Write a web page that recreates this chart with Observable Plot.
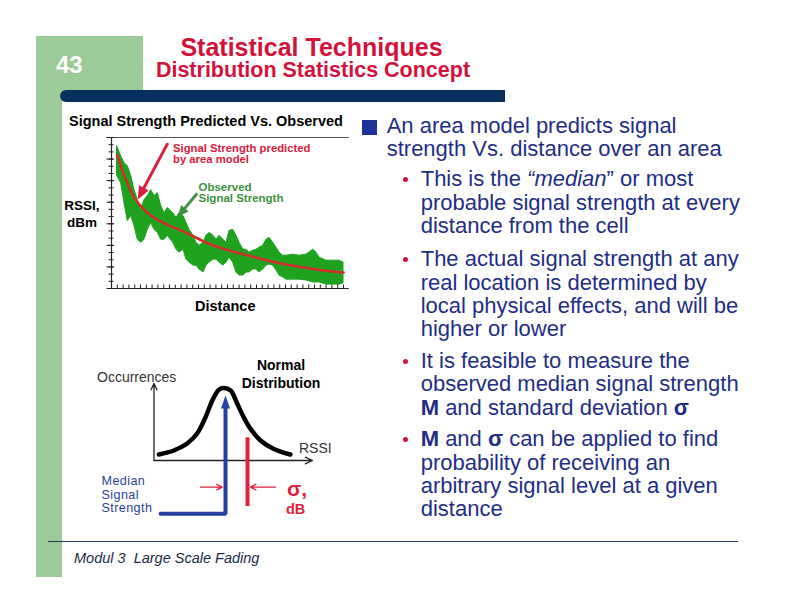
<!DOCTYPE html>
<html><head><meta charset="utf-8">
<script src="https://cdn.jsdelivr.net/npm/d3@7"></script>
<script src="https://cdn.jsdelivr.net/npm/@observablehq/plot@0.6"></script>
<style>
body{margin:0;background:#fff;font-family:"Liberation Sans",Arial,sans-serif;}
#slide{position:relative;width:792px;height:612px;overflow:hidden;background:#fff;}
.t{position:absolute;white-space:nowrap;}
.box{position:absolute;}
#chart1,#chart2{position:absolute;}
</style></head><body>
<div id="slide">
  <div class="box" style="left:36px;top:36px;width:26px;height:541px;background:#9bcc97"></div>
  <div class="box" style="left:36px;top:36px;width:107px;height:60px;background:#9bcc97"></div>
  <div class="box" style="left:60px;top:90px;width:445px;height:12px;background:#07305e;border-radius:6px 0 0 6px"></div>
  <div class="box" style="left:48px;top:541px;width:690px;height:1px;background:#223a55"></div>
  <div class="box" style="left:362px;top:120px;width:15px;height:15px;background:#1d3297"></div>
  <div id="chart1" style="left:62px;top:110px"></div>
  <div id="chart2" style="left:90px;top:350px"></div>
</div>
<script>
// ---- Data: top chart (RSSI vs distance) ----
const obsDistance = [0.98,1.67,2.24,2.81,3.40,3.97,4.53,5.12,5.69,6.26,6.84,7.41,7.98,8.57,9.14,9.71,10.64,11.21,11.72,12.41,12.93,13.45,14.14,14.66,15.17,15.86,16.38,16.90,17.59,18.10,18.62,19.31,19.83,20.34,20.98,21.55,22.07,22.76,23.28,23.79,24.43,25.00,25.52,26.16,26.72,27.24,27.88,28.45,28.97,29.60,30.17,31.33,32.41,33.62,34.78,35.34,35.86,37.07,38.22,39.31,40.0];
const obsHigh = [-54.1,-58.7,-61.9,-63.3,-67.9,-74.4,-79.0,-83.6,-79.0,-77.1,-74.4,-77.1,-75.8,-81.8,-85.0,-82.7,-85.0,-87.3,-85.0,-86.4,-89.6,-92.8,-95.6,-98.8,-100.2,-98.8,-95.6,-94.2,-95.6,-97.4,-95.6,-97.4,-98.8,-93.3,-92.8,-95.6,-98.8,-102.0,-102.0,-103.4,-102.5,-102.0,-101.1,-100.2,-97.4,-96.5,-98.8,-101.1,-103.4,-104.8,-104.8,-104.3,-104.8,-104.3,-102.0,-103.4,-105.7,-107.1,-107.1,-107.1,-108.0];
const obsLow = [-67.9,-71.2,-80.4,-88.7,-86.4,-91.0,-97.4,-98.8,-97.4,-92.8,-89.6,-92.8,-94.2,-97.4,-97.4,-95.6,-98.8,-102.0,-103.4,-102.0,-106.6,-108.0,-109.4,-109.4,-111.2,-112.6,-109.4,-108.0,-106.6,-106.6,-108.0,-109.4,-108.0,-105.7,-108.0,-112.6,-114.0,-114.0,-112.6,-112.6,-111.2,-111.2,-112.6,-111.2,-109.4,-108.9,-109.4,-111.7,-114.0,-114.9,-115.9,-115.9,-115.9,-116.3,-117.2,-117.2,-117.2,-118.2,-118.2,-118.2,-117.7];
const modelDistance = [0.98,2.24,3.97,5.69,7.41,9.66,12.93,16.38,19.83,25.0,30.17,35.34,40.0];
const modelRSSI = [-58.1,-67.9,-78.1,-83.6,-87.3,-90.5,-94.2,-98.8,-102.0,-105.7,-108.9,-111.2,-112.6];
const yMajorTicks = [-120,-110,-100,-90,-80,-70,-60,-50];
// ---- Data: normal distribution diagram (RSSI in sigma units around the median) ----
const bellRSSI = [-3.03,-2.35,-1.74,-1.29,-0.91,-0.60,-0.30,-0.08,0.23,0.53,0.83,1.14,1.59,2.20,2.95];
const bellOccurrence = [0.078,0.13,0.22,0.35,0.56,0.78,0.92,0.94,0.91,0.74,0.56,0.41,0.26,0.15,0.078];
const medianRSSI = 0;
const sigmaDB = 1;

const slide = document.getElementById("slide");
function label(html, x, base, size, o = {}) {
  const lh = o.lh || size * 1.15;
  const d = document.createElement("div");
  d.className = "t";
  d.innerHTML = html;
  Object.assign(d.style, {
    top: (base - lh / 2 - 0.3465 * size) + "px",
    fontSize: size + "px", lineHeight: lh + "px",
    color: o.color || "#000",
    fontWeight: o.bold ? "bold" : "normal",
    fontStyle: o.italic ? "italic" : "normal",
    letterSpacing: (o.ls || 0) + "px"
  });
  if (o.center) { d.style.left = (x - 200) + "px"; d.style.width = "400px"; d.style.textAlign = "center"; }
  else d.style.left = x + "px";
  slide.appendChild(d);
}
const RED = "#d3123b", NAVY = "#1f2e84";
label("43", 56, 73.3, 24, {bold: true, color: "#fff"});
label("Statistical Techniques", 311.5, 56, 25, {bold: true, color: RED, center: true});
label("Distribution Statistics Concept", 313, 78.3, 21.5, {bold: true, color: RED, center: true});
label("Signal Strength Predicted Vs. Observed", 69, 126.7, 14.5, {bold: true});
label("RSSI,<br>dBm", 82, 211, 13.5, {bold: true, lh: 16.7, center: true});
label("Distance", 195, 311.7, 14.5, {bold: true});
label("Occurrences", 97, 381.7, 14, {color: "#333"});
label("Normal<br>Distribution", 281, 370.7, 14, {bold: true, lh: 17.6, center: true});
label("RSSI", 299, 453.3, 14, {color: "#333"});
label("Median<br>Signal<br>Strength", 101.5, 486.3, 12.6, {lh: 13.6, color: "#2e3f99", ls: 0.4});
label("σ,", 287, 496, 21, {bold: true, color: "#e0203c", lh: 16});
label("dB", 286, 515, 14.5, {bold: true, color: "#e0203c", lh: 13});
label("Modul 3&nbsp; Large Scale Fading", 74, 563, 14.5, {italic: true, color: "#1b2b48"});

const LH = 23.35, FS = 22;
label("An area model predicts signal<br>strength Vs. distance over an area", 386.7, 133, FS, {lh: LH, color: NAVY});
const bullets = [
  [186.7, "This is the <i>“median</i>” or most<br>probable signal strength at every<br>distance from the cell"],
  [266.7, "The actual signal strength at any<br>real location is determined by<br>local physical effects, and will be<br>higher or lower"],
  [368.3, "It is feasible to measure the<br>observed median signal strength<br><b>M</b> and standard deviation <b>σ</b>"],
  [446.7, "<b>M</b> and <b>σ</b> can be applied to find<br>probability of receiving an<br>arbitrary signal level at a given<br>distance"]
];
for (const [b, h] of bullets) {
  label(h, 420.7, b, FS, {lh: LH, color: NAVY});
  const dot = document.createElement("div");
  dot.className = "box";
  Object.assign(dot.style, {left: "403px", top: (b - 9.5) + "px", width: "5px", height: "5px", borderRadius: "50%", background: RED});
  slide.appendChild(dot);
}

// ---- Chart 1 ----
const W1 = 290, H1 = 210, ML1 = 49, MR1 = 9, MT1 = 27, MB1 = 32;
const kx = (W1 - ML1 - MR1) / 40, ky = (H1 - MT1 - MB1) / 70;
const obs = obsDistance.map((d, i) => ({d, hi: obsHigh[i], lo: obsLow[i]}));
const model = modelDistance.map((d, i) => ({d, v: modelRSSI[i]}));
const yMinor = d3.range(-120, -50.01, 10 / 3);
const xMinor = d3.range(1, 41, 1);
const GREEN = "#1fa31f", MRED = "#d42d2d", AGREEN = "#3d9140", ARED = "#d8203c";
function arrowParts(a, color, width, headL, headR) {
  const dxp = (a.x2 - a.x1) * kx, dyp = -(a.y2 - a.y1) * ky;
  const len = Math.hypot(dxp, dyp);
  const angle = Math.atan2(dxp, -dyp) * 180 / Math.PI;
  const f = (len - headL * 0.6) / len;
  const s = {x1: a.x1, y1: a.y1, x2: a.x1 + (a.x2 - a.x1) * f, y2: a.y1 + (a.y2 - a.y1) * f};
  return [
    Plot.link([s], {x1: "x1", y1: "y1", x2: "x2", y2: "y2", stroke: color, strokeWidth: width}),
    Plot.vector([a], {x: "x2", y: "y2", length: headL, r: headR, rotate: angle, anchor: "end", shape: "spike", fill: color, stroke: "none"})
  ];
}
const chart1 = Plot.plot({
  width: W1, height: H1, marginLeft: ML1, marginRight: MR1, marginTop: MT1, marginBottom: MB1,
  x: {domain: [0, 40], axis: null}, y: {domain: [-120, -50], axis: null},
  style: {background: "transparent", overflow: "visible", fontFamily: "Liberation Sans, Arial, sans-serif"},
  marks: [
    Plot.areaY(obs, {x: "d", y1: "lo", y2: "hi", fill: GREEN, stroke: GREEN, strokeWidth: 1}),
    Plot.line(model, {x: "d", y: "v", curve: "catmull-rom", stroke: MRED, strokeWidth: 2.6}),
    Plot.ruleX([0], {y1: -120, y2: -50, stroke: "#222", strokeWidth: 1.2}),
    Plot.ruleY([-120], {x1: 0, x2: 41, stroke: "#222", strokeWidth: 1.2}),
    Plot.ruleY([-50], {x1: -0.5, x2: 41, stroke: "#555", strokeWidth: 1}),
    Plot.ruleY(yMinor, {x1: -2.5 / kx, x2: 2.5 / kx, stroke: "#222", strokeWidth: 1}),
    Plot.ruleY(yMajorTicks, {x1: -4.5 / kx, x2: 3 / kx, stroke: "#222", strokeWidth: 1}),
    Plot.ruleX(xMinor, {y1: -120, y2: -120 + 3.5 / ky, stroke: "#222", strokeWidth: 1}),
    ...arrowParts({x1: 9.71, y1: -52.6, x2: 4.53, y2: -78.7}, ARED, 3, 13, 5.5),
    ...arrowParts({x1: 14.78, y1: -75.9, x2: 11.43, y2: -86.7}, AGREEN, 3, 11, 5),
    Plot.text([{x: 10.6, y: -52.8}], {x: "x", y: "y", text: () => "Signal Strength predicted\nby area model", textAnchor: "start", lineAnchor: "top", fontSize: 11.3, fontWeight: "bold", fill: ARED, lineHeight: 1.0}),
    Plot.text([{x: 15.0, y: -70.8}], {x: "x", y: "y", text: () => "Observed\nSignal Strength", textAnchor: "start", lineAnchor: "top", fontSize: 11.5, fontWeight: "bold", fill: AGREEN, lineHeight: 1.0})
  ]
});
document.getElementById("chart1").appendChild(chart1);

// ---- Chart 2 ----
const W2 = 260, H2 = 180, ML2 = 63.5, MR2 = 38.1, MT2 = 33, MB2 = 16.1;
const bell = bellRSSI.map((x, i) => ({x, y: bellOccurrence[i]}));
const BLUE = "#2340a0", SRED = "#e0203c";
const bluePath = [{x: -2.95, y: -0.692}, {x: medianRSSI, y: -0.692}, {x: medianRSSI, y: 0.675}];
const chart2 = Plot.plot({
  width: W2, height: H2, marginLeft: ML2, marginRight: MR2, marginTop: MT2, marginBottom: MB2,
  x: {domain: [-3.25, 3.95], axis: null}, y: {domain: [-0.7, 1.0], axis: null},
  style: {background: "transparent", overflow: "visible"},
  marks: [
    Plot.arrow([{x1: -3.25, y1: 0, x2: -3.25, y2: 1}], {x1: "x1", y1: "y1", x2: "x2", y2: "y2", stroke: "#222", strokeWidth: 1.3, headLength: 8, headAngle: 50}),
    Plot.arrow([{x1: -3.25, y1: 0, x2: 3.95, y2: 0}], {x1: "x1", y1: "y1", x2: "x2", y2: "y2", stroke: "#222", strokeWidth: 1.3, headLength: 9, headAngle: 50}),
    Plot.line(bell, {x: "x", y: "y", curve: "catmull-rom", stroke: "#000", strokeWidth: 4.5}),
    Plot.line(bluePath, {x: "x", y: "y", stroke: BLUE, strokeWidth: 4, strokeLinejoin: "miter"}),
    Plot.vector([{x: medianRSSI, y: 0.675}], {x: "x", y: "y", length: 13, r: 4.5, anchor: "start", shape: "spike", fill: BLUE, stroke: "none"}),
    Plot.ruleX([medianRSSI + sigmaDB], {y1: -0.597, y2: 0.295, stroke: SRED, strokeWidth: 4}),
    Plot.arrow([{x1: -1.136, y1: -0.346, x2: -0.15, y2: -0.346}], {x1: "x1", y1: "y1", x2: "x2", y2: "y2", stroke: SRED, strokeWidth: 1.3, headLength: 7, headAngle: 55}),
    Plot.arrow([{x1: 2.27, y1: -0.346, x2: 1.136, y2: -0.346}], {x1: "x1", y1: "y1", x2: "x2", y2: "y2", stroke: SRED, strokeWidth: 1.3, headLength: 7, headAngle: 55})
  ]
});
document.getElementById("chart2").appendChild(chart2);
</script>
</body></html>
